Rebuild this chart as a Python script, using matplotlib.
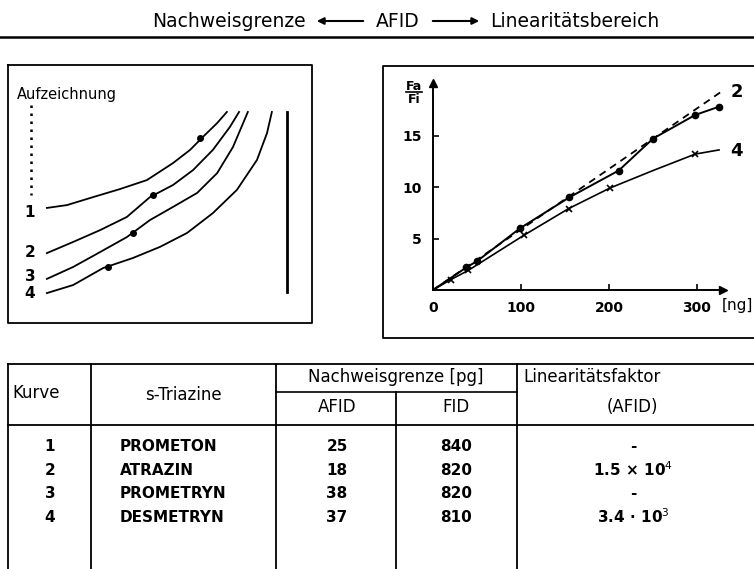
import numpy as np
import matplotlib.pyplot as plt

plt.rcParams['font.family'] = ['DejaVu Sans']

# left panel: recorder traces (arbitrary units, 0..100)
trace_x = [
    [12.8, 19.4, 28.0, 36.8, 45.7, 54.3, 59.9, 64.1, 68.8, 72.0],
    [12.8, 21.4, 30.3, 39.1, 46.7, 54.3, 60.9, 67.4, 73.0, 76.0],
    [12.8, 21.4, 30.3, 39.1, 46.7, 54.3, 62.2, 68.8, 74.0, 78.9],
    [12.8, 21.4, 31.3, 41.1, 50.0, 58.9, 67.4, 75.3, 81.9, 85.2, 86.8],
]
trace_y = [
    [44.6, 45.7, 48.8, 51.9, 55.4, 62.0, 67.1, 72.1, 77.5, 81.8],
    [27.1, 31.4, 36.0, 41.1, 48.8, 53.5, 59.3, 67.1, 76.0, 81.8],
    [17.1, 21.7, 27.5, 33.3, 39.9, 45.0, 50.4, 58.1, 68.2, 81.8],
    [11.6, 14.7, 21.3, 25.2, 29.5, 34.9, 42.6, 51.6, 63.2, 73.6, 81.8],
]
peak_x = [63.2, 47.7, 41.1, 32.9]
peak_y = [71.7, 49.6, 34.9, 21.7]
trace_labels = ["1", "2", "3", "4"]
trace_label_y = [43.0, 27.5, 18.2, 11.4]

# right panel: Fa/Fi vs amount [ng]
c2_x = [0, 38, 50, 99, 155, 211, 250, 298, 325]
c2_y = [0, 2.2, 2.8, 6.0, 9.0, 11.6, 14.7, 17.0, 17.8]
c2_marked = [38, 50, 99, 155, 211, 250, 298, 325]
c2_marked_y = [2.2, 2.8, 6.0, 9.0, 11.6, 14.7, 17.0, 17.8]
ideal_x = [0, 330]
ideal_y = [0, 19.4]
c4_x = [0, 20, 40, 103, 154, 201, 250, 298, 325]
c4_y = [0, 1.0, 1.9, 5.3, 7.9, 9.9, 11.6, 13.2, 13.6]
c4_marked = [20, 40, 103, 154, 201, 298]
c4_marked_y = [1.0, 1.9, 5.3, 7.9, 9.9, 13.2]

# table
kurve = ["1", "2", "3", "4"]
triazine = ["PROMETON", "ATRAZIN", "PROMETRYN", "DESMETRYN"]
afid = ["25", "18", "38", "37"]
fid = ["840", "820", "820", "810"]
linfaktor = ["-", r"1.5 × 10$^{4}$", "-", r"3.4 · 10$^{3}$"]

W, H = 754, 569
fig = plt.figure(figsize=(W / 100, H / 100), dpi=100)

# background overlay in pixel coordinates
bg = fig.add_axes([0, 0, 1, 1])
bg.set_xlim(0, W)
bg.set_ylim(H, 0)
bg.axis('off')

# header
bg.text(306, 21, "Nachweisgrenze", ha='right', va='center', fontsize=13.5)
bg.annotate("", xy=(314, 21), xytext=(366, 21),
            arrowprops=dict(arrowstyle='-|>', color='k', lw=1.5, mutation_scale=10))
bg.text(398, 21, "AFID", ha='center', va='center', fontsize=13.5)
bg.annotate("", xy=(482, 21), xytext=(430, 21),
            arrowprops=dict(arrowstyle='-|>', color='k', lw=1.5, mutation_scale=10))
bg.text(490, 21, "Linearitätsbereich", ha='left', va='center', fontsize=13.5)
bg.plot([0, W], [37, 37], color='k', lw=1.8)

# frames
bg.plot([8, 312, 312, 8, 8], [65, 65, 323, 323, 65], color='k', lw=1.3)
bg.plot([W, 383, 383, W], [66, 66, 338, 338], color='k', lw=1.3)

# left panel
axl = fig.add_axes([8 / W, (H - 323) / H, 304 / W, 258 / H])
axl.set_xlim(0, 100)
axl.set_ylim(0, 100)
axl.axis('off')
for xs, ys in zip(trace_x, trace_y):
    axl.plot(xs, ys, color='k', lw=1.3, solid_joinstyle='round')
axl.plot(peak_x, peak_y, linestyle='none', marker='o', ms=4, color='k')
axl.plot([91.8, 91.8], [81.8, 12.0], color='k', lw=2.0)
axl.plot([7.6, 7.6], [84.5, 49.6], color='k', lw=1.8, linestyle=(0, (1, 2.2)))
axl.text(3.0, 88.4, "Aufzeichnung", ha='left', va='center', fontsize=10.5)
for lab, ly in zip(trace_labels, trace_label_y):
    axl.text(7.2, ly, lab, ha='center', va='center', fontsize=11, fontweight='bold')

# right panel
axr = fig.add_axes([433 / W, (H - 290) / H, 290 / W, 207 / H])
axr.set_xlim(0, 329.5)
axr.set_ylim(0, 20.1)
axr.plot(ideal_x, ideal_y, color='k', lw=1.3, linestyle=(0, (4, 3)))
axr.plot(c2_x, c2_y, color='k', lw=1.4)
axr.plot(c2_marked, c2_marked_y, linestyle='none', marker='o', ms=4.5, color='k')
axr.plot(c4_x, c4_y, color='k', lw=1.2)
axr.plot(c4_marked, c4_marked_y, linestyle='none', marker='x', ms=5, mew=1.2, color='k')
for s in ['top', 'right']:
    axr.spines[s].set_visible(False)
for s in ['left', 'bottom']:
    axr.spines[s].set_linewidth(1.4)
axr.plot(1, 0, '>k', ms=6, transform=axr.transAxes, clip_on=False)
axr.plot(0, 1, '^k', ms=6, transform=axr.transAxes, clip_on=False)
axr.set_xticks([0, 100, 200, 300])
axr.set_yticks([5, 10, 15])
axr.tick_params(direction='in', length=4, width=1.2, labelsize=10, pad=8)
for t in axr.get_xticklabels() + axr.get_yticklabels():
    t.set_fontweight('bold')
axr.text(345, 19.2, "2", ha='center', va='center', fontsize=13, fontweight='bold', clip_on=False)
axr.text(345, 13.5, "4", ha='center', va='center', fontsize=13, fontweight='bold', clip_on=False)

bg.text(414, 86, "Fa", ha='center', va='center', fontsize=9, fontweight='bold')
bg.plot([406, 422], [92, 92], color='k', lw=1.2)
bg.text(414, 99, "Fi", ha='center', va='center', fontsize=9, fontweight='bold')
bg.text(737, 305, "[ng]", ha='center', va='center', fontsize=11)

# table
bg.plot([8, W], [364, 364], color='k', lw=1.3)
bg.plot([8, W], [425, 425], color='k', lw=1.3)
bg.plot([276, 517], [392, 392], color='k', lw=1.2)
for x in [8, 91, 276, 517]:
    bg.plot([x, x], [364, H], color='k', lw=1.3)
bg.plot([396, 396], [392, H], color='k', lw=1.3)

bg.text(12, 393, "Kurve", ha='left', va='center', fontsize=12)
bg.text(183, 395, "s-Triazine", ha='center', va='center', fontsize=12)
bg.text(396, 377, "Nachweisgrenze [pg]", ha='center', va='center', fontsize=12)
bg.text(337, 407, "AFID", ha='center', va='center', fontsize=12)
bg.text(456, 407, "FID", ha='center', va='center', fontsize=12)
bg.text(523, 377, "Linearitätsfaktor", ha='left', va='center', fontsize=12)
bg.text(632, 407, "(AFID)", ha='center', va='center', fontsize=12)

row_y = [446, 470, 493, 517]
for i, ry in enumerate(row_y):
    bg.text(50, ry, kurve[i], ha='center', va='center', fontsize=11, fontweight='bold')
    bg.text(120, ry, triazine[i], ha='left', va='center', fontsize=11, fontweight='bold')
    bg.text(337, ry, afid[i], ha='center', va='center', fontsize=11, fontweight='bold')
    bg.text(456, ry, fid[i], ha='center', va='center', fontsize=11, fontweight='bold')
    bg.text(633, ry, linfaktor[i], ha='center', va='center', fontsize=11, fontweight='bold')

fig.savefig("out.png", dpi=100)
